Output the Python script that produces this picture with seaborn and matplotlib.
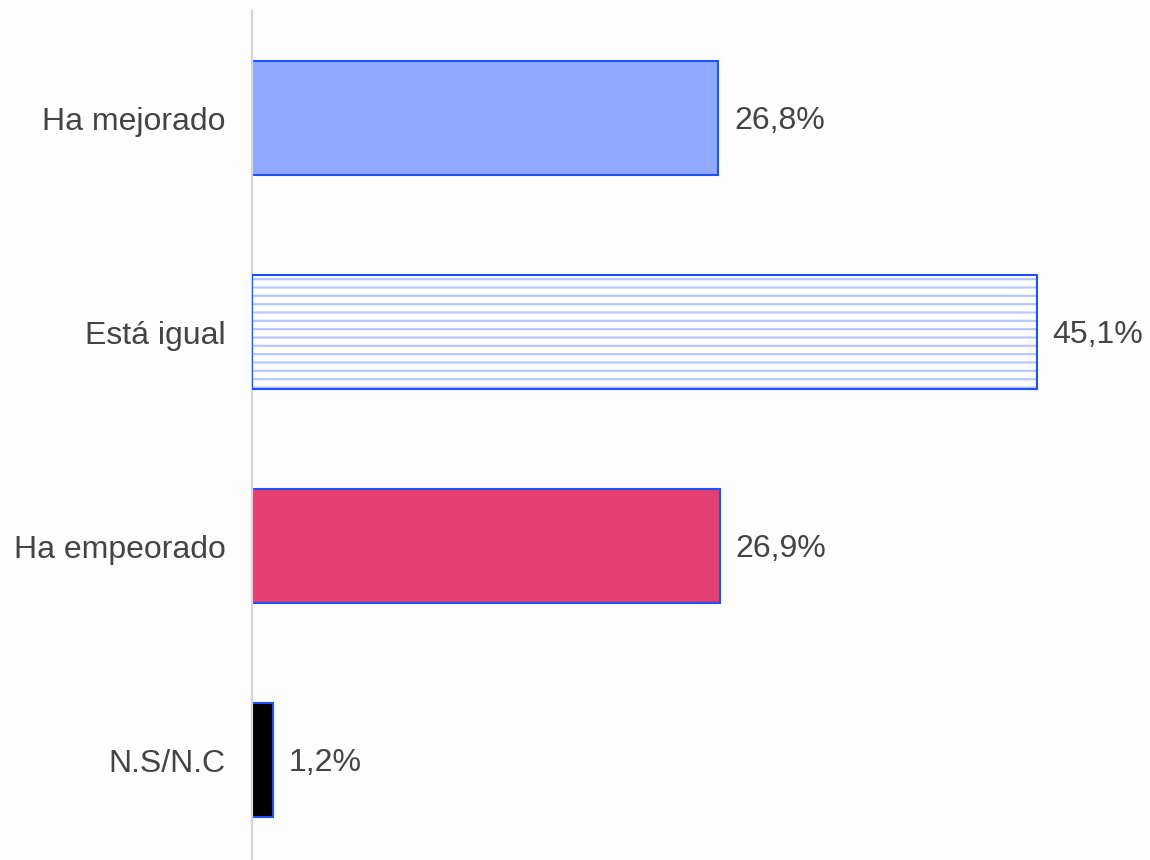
import matplotlib
matplotlib.use('Agg')
import matplotlib.pyplot as plt
import seaborn as sns
import pandas as pd
from matplotlib.patches import Rectangle

# data
categories = ['Ha mejorado', 'Está igual', 'Ha empeorado', 'N.S/N.C']
values = [26.8, 45.1, 26.9, 1.2]
value_labels = ['26,8%', '45,1%', '26,9%', '1,2%']

bar_colors = ['#8FAAFF', '#FFFFFF', '#E3406F', '#000000']
edge_blue = '#1F50FF'
hatch_blue = '#B8C8FF'
text_gray = '#444444'

sns.set_theme(style='white')
plt.rcParams['font.family'] = ['Liberation Sans', 'DejaVu Sans']
plt.rcParams['hatch.linewidth'] = 1.6

df = pd.DataFrame({'categoria': categories, 'valor': values})

fig = plt.figure(figsize=(11.5, 8.6), dpi=100)
fig.patch.set_facecolor('#FDFDFD')
ax = fig.add_axes([252 / 1150, 0.0, 1 - 252 / 1150, (860 - 11) / 860])
ax.set_facecolor('#FDFDFD')

sns.barplot(data=df, x='valor', y='categoria', hue='categoria',
            palette=bar_colors, orient='h', width=0.53, saturation=1,
            edgecolor=edge_blue, linewidth=1.5, legend=False, ax=ax)

# hatched bar (Está igual): light blue horizontal lines, blue outline on top
p = ax.patches[1]
p.set_edgecolor(hatch_blue)
p.set_hatch('--')
p.set_linewidth(0)
ax.add_patch(Rectangle((p.get_x(), p.get_y()), p.get_width(), p.get_height(),
                       fill=False, edgecolor=edge_blue, linewidth=1.5, zorder=3))

# value labels
for i, (v, lab) in enumerate(zip(values, value_labels)):
    ax.text(v + 0.9, i + 0.012, lab, va='center', ha='left',
            fontsize=23, color=text_gray)

ax.set_xlim(0, 51.6)
ax.set_ylim(3.467, -0.5)
ax.set_xlabel('')
ax.set_ylabel('')
ax.set_xticks([])
ax.tick_params(axis='y', length=0, pad=19, labelsize=23, labelcolor=text_gray)

for s in ['top', 'right', 'bottom']:
    ax.spines[s].set_visible(False)
ax.spines['left'].set_color('#D4D4D4')
ax.spines['left'].set_linewidth(1.6)

fig.savefig('out.png', dpi=100, facecolor=fig.get_facecolor())
